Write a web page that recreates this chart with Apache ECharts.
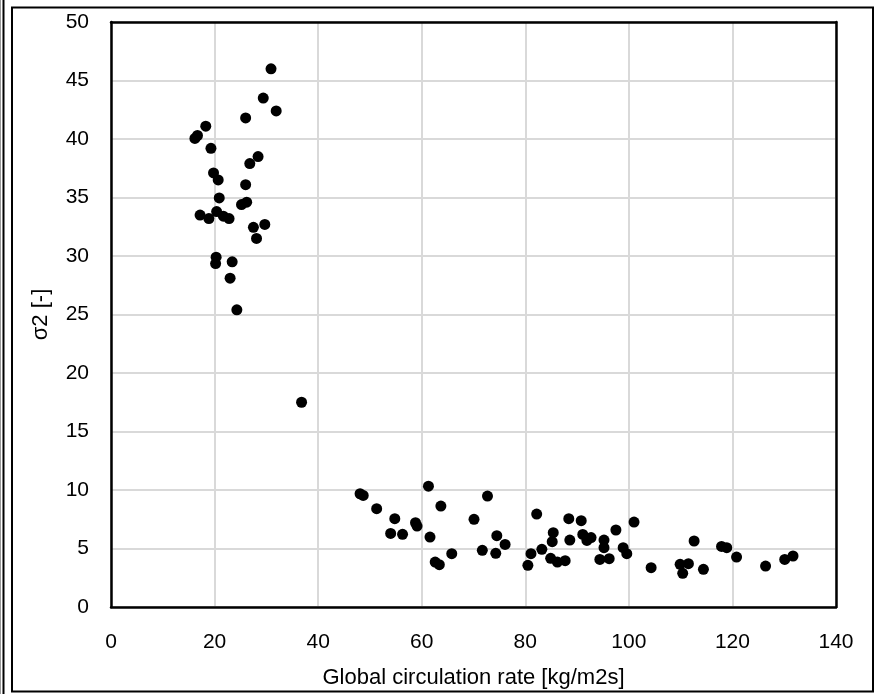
<!DOCTYPE html>
<html>
<head>
<meta charset="utf-8">
<script src="https://cdn.jsdelivr.net/npm/echarts@6/dist/echarts.min.js"></script>
<style>
html,body{margin:0;padding:0;background:#fff;}
#chart{width:880px;height:694px;}
</style>
</head>
<body>
<div id="chart"></div>
<script>
// Global circulation rate [kg/m2s]
var xValues = [
  30.9, 29.4, 31.9, 26.0, 18.3, 16.7, 16.2, 19.3, 28.4, 26.8,
  19.8, 20.7, 26.0, 20.9, 26.2, 25.2, 20.4, 17.2, 18.9, 21.7,
  22.8, 27.5, 29.7, 28.1, 20.3, 20.2, 23.4, 23.0, 24.3, 36.8,
  48.1, 48.7, 51.3, 54.8, 54.0, 56.3, 58.8, 59.1, 61.3, 63.7,
  61.6, 62.6, 63.4, 65.8, 70.1, 72.7, 71.7, 74.5, 74.3, 76.1,
  80.5, 81.1, 82.2, 83.2, 84.9, 86.2, 87.7, 85.4, 85.2, 88.4,
  90.8, 88.6, 91.1, 91.9, 92.7, 94.4, 96.2, 95.2, 95.2, 97.5,
  101.0, 98.9, 99.6, 104.3, 109.9, 111.5, 110.4, 112.6, 114.4, 117.9,
  118.9, 120.8, 126.4, 130.1, 131.7
];
// σ2 [-]
var yValues = [
  46.0, 43.5, 42.4, 41.8, 41.1, 40.3, 40.05, 39.2, 38.5, 37.9,
  37.1, 36.5, 36.1, 34.96, 34.6, 34.4, 33.8, 33.5, 33.2, 33.4,
  33.2, 32.45, 32.7, 31.5, 29.9, 29.35, 29.5, 28.1, 25.4, 17.5,
  9.68, 9.54, 8.40, 7.55, 6.29, 6.21, 7.2, 6.92, 10.33, 8.63,
  5.98, 3.84, 3.62, 4.56, 7.49, 9.48, 4.84, 6.10, 4.59, 5.35,
  3.56, 4.56, 7.94, 4.93, 4.16, 3.84, 3.96, 6.35, 5.58, 7.55,
  7.38, 5.72, 6.2, 5.69, 5.93, 4.07, 4.13, 5.72, 5.07, 6.58,
  7.26, 5.07, 4.56, 3.36, 3.65, 3.70, 2.88, 5.64, 3.22, 5.18,
  5.07, 4.27, 3.5, 4.07, 4.36
];
var xTicks = [0, 20, 40, 60, 80, 100, 120, 140];
var yTicks = [0, 5, 10, 15, 20, 25, 30, 35, 40, 45, 50];

var points = xValues.map(function (x, i) { return [x, yValues[i]]; });

var FONT = '"Liberation Sans", Arial, sans-serif';
var xMin = xTicks[0], xMax = xTicks[xTicks.length - 1];
var yMin = yTicks[0], yMax = yTicks[yTicks.length - 1];
var frameLine = {show: true, onZero: false, lineStyle: {color: '#000', width: 2.5}};

var chart = echarts.init(document.getElementById('chart'), null, {renderer: 'canvas'});
chart.setOption({
  animation: false,
  backgroundColor: '#fff',
  grid: {left: 111, right: 44, top: 22, bottom: 86},
  xAxis: [{
    type: 'value', position: 'bottom',
    min: xMin, max: xMax, interval: 20,
    name: 'Global circulation rate [kg/m2s]',
    nameLocation: 'middle', nameGap: 60,
    nameTextStyle: {fontFamily: FONT, fontSize: 22, color: '#000'},
    axisLine: frameLine,
    axisTick: {show: false},
    axisLabel: {fontFamily: FONT, fontSize: 21, color: '#000', margin: 25},
    splitLine: {show: true, lineStyle: {color: '#d9d9d9', width: 2}},
    z: 3
  }, {
    type: 'value', position: 'top',
    min: xMin, max: xMax, interval: 20,
    axisLine: frameLine, axisTick: {show: false}, axisLabel: {show: false},
    splitLine: {show: false}, z: 3
  }],
  yAxis: [{
    type: 'value', position: 'left',
    min: yMin, max: yMax, interval: 5,
    name: 'σ2 [-]',
    nameLocation: 'middle', nameGap: 59,
    nameTextStyle: {fontFamily: FONT, fontSize: 22, color: '#000'},
    axisLine: frameLine,
    axisTick: {show: false},
    axisLabel: {fontFamily: FONT, fontSize: 21, color: '#000', margin: 22},
    splitLine: {show: true, lineStyle: {color: '#d9d9d9', width: 2}},
    z: 3
  }, {
    type: 'value', position: 'right',
    min: yMin, max: yMax, interval: 5,
    axisLine: frameLine, axisTick: {show: false}, axisLabel: {show: false},
    splitLine: {show: false}, z: 3
  }],
  series: [{
    type: 'scatter',
    data: points,
    symbol: 'circle',
    symbolSize: 11,
    itemStyle: {color: '#000', opacity: 1},
    z: 5
  }],
  graphic: [
    {type: 'rect', shape: {x: 12, y: 7.5, width: 861, height: 684}, style: {fill: 'none', stroke: '#000', lineWidth: 2}, silent: true},
    {type: 'line', shape: {x1: 3.5, y1: 0, x2: 3.5, y2: 694}, style: {stroke: '#000', lineWidth: 2}, silent: true},
    {type: 'line', shape: {x1: 0.5, y1: 0, x2: 0.5, y2: 694}, style: {stroke: '#999', lineWidth: 1}, silent: true}
  ]
});
</script>
</body>
</html>
